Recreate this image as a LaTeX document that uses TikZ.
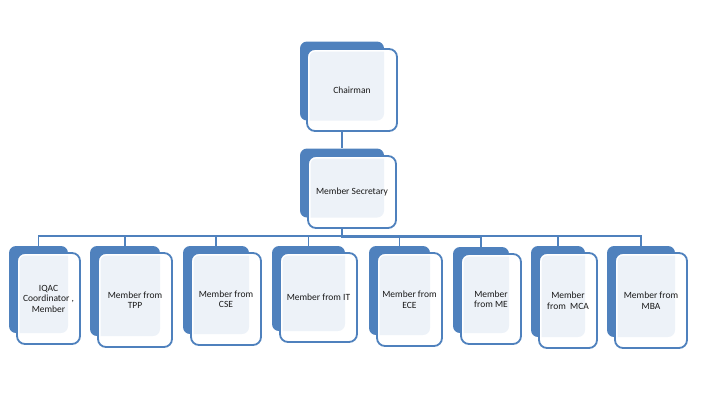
\documentclass[tikz,border=0pt]{standalone}
\usepackage{fontspec}
\setmainfont{Carlito}
\usepackage{xcolor}
\usetikzlibrary{positioning, calc}

\definecolor{smblue}{HTML}{4F81BD}

\begin{document}
\begin{tikzpicture}[
    x=1pt, y=-1pt,
    back/.style={rectangle, rounded corners=7pt, fill=smblue, inner sep=0pt},
    front/.style={rectangle, rounded corners=8pt, draw=smblue, line width=1.8pt,
                  fill=white, fill opacity=0.9, text opacity=1, inner sep=1pt,
                  align=center, text=black!90, font=\fontsize{9.5}{10.5}\selectfont,
                  path picture={\draw[white, line width=5pt, rounded corners=8pt]
                    (path picture bounding box.south west) rectangle
                    (path picture bounding box.north east);}},
    conn/.style={draw=smblue, line width=1.8pt},
]
\useasboundingbox (0,0) rectangle (706,400);

% Chairman
\node[back, minimum width=84pt, minimum height=79pt] (cb) at (342,81) {};
\node[front, minimum width=90pt, minimum height=82pt] (chair) at (352,90) {Chairman};

% Member Secretary
\node[back, minimum width=84pt, minimum height=69pt] (sb) at (342,183) {};
\node[front, minimum width=88pt, minimum height=72pt] (sec) at (352,192) {Member Secretary};

% Members
\foreach \i/\x/\y/\w/\h/\txt in {
    1/48.5/298.5/63/91/{IQAC\\Coordinator ,\\Member},
    2/135/300/74/94/{Member from\\TPP},
    3/226/299/70/92/{Member from\\CSE},
    4/318.5/297.5/77/89/{Member from IT},
    5/409.5/299.5/65/93/{Member from\\ECE},
    6/491/299/60/90/{Member\\from ME},
    7/568/300.5/58/95/{Member\\from~ MCA},
    8/651/300.5/72/95/{Member from\\MBA}} {
  \node[back, minimum width={(\w-4)*1pt}, minimum height={(\h-4)*1pt}] (b\i) at (\x-10,\y-9) {};
  \node[front, minimum width={\w*1pt}, minimum height={\h*1pt}] (m\i) at (\x,\y) {\txt};
}

% Connectors
\draw[conn] (cb.center |- chair.south) -- (sb.north);
\foreach \i in {1,...,8}
  \draw[conn] (sb.center |- sec.south) |- ($(b\i.north)+(0,-10)$) -- (b\i.north);

\end{tikzpicture}
\end{document}
